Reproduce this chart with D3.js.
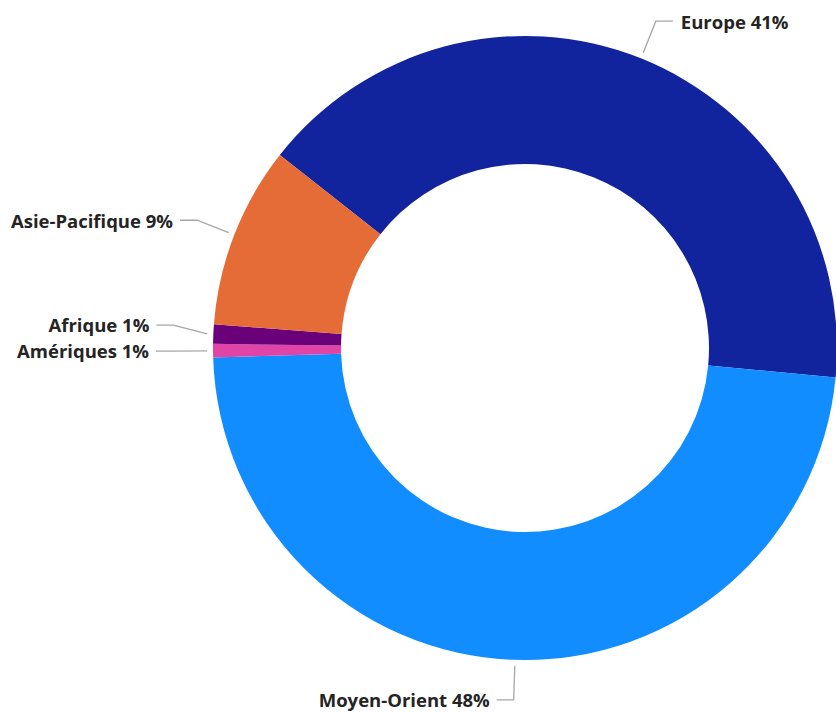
<!DOCTYPE html>
<html>
<head>
<meta charset="utf-8">
<script src="https://cdn.jsdelivr.net/npm/d3@7"></script>
<style>
  body { margin: 0; background: #fff; }
  svg { display: block; }
</style>
</head>
<body>
<div id="chart"></div>
<script>
// regions, clockwise order as drawn
var regions = ["Europe", "Moyen-Orient", "Amériques", "Afrique", "Asie-Pacifique"];
var shares = [40.9, 48.0, 0.7, 1.0, 9.4];
var colors = ["#12239E", "#118DFF", "#E044A7", "#6B007B", "#E66C37"];

var width = 836, height = 712;
var cx = 525, cy = 348;
var outerR = 312, innerR = 184;

var svg = d3.select("#chart").append("svg")
    .attr("width", width)
    .attr("height", height);

var data = regions.map(function (r, i) {
    return { region: r, value: shares[i], color: colors[i] };
});

var pie = d3.pie()
    .sort(null)
    .value(function (d) { return d.value; })
    .startAngle(-51.8 * Math.PI / 180)
    .endAngle((360 - 51.8) * Math.PI / 180);

var arc = d3.arc().innerRadius(innerR).outerRadius(outerR);

var g = svg.append("g").attr("transform", "translate(" + cx + "," + cy + ")");

var arcs = pie(data);

g.selectAll("path.slice")
    .data(arcs)
    .enter()
    .append("path")
    .attr("class", "slice")
    .attr("d", arc)
    .attr("fill", function (d) { return d.data.color; });

// label layout: radial segment then horizontal tail
function pt(angle, r) {
    return [Math.sin(angle) * r, -Math.cos(angle) * r];
}

var labels = arcs.map(function (d) {
    var mid = (d.startAngle + d.endAngle) / 2;
    var p1 = pt(mid, outerR + 6);
    var p2 = pt(mid, outerR + 40);
    var s = Math.sin(mid);
    var right = Math.abs(s) > 0.02 ? s > 0 : Math.cos(mid) > 0;
    return { d: d, mid: mid, p1: p1, p2: p2, right: right };
});

// push overlapping labels on the left side upward
var left = labels.filter(function (l) { return !l.right && Math.abs(l.p2[1]) < outerR; })
    .sort(function (a, b) { return b.p2[1] - a.p2[1]; });
for (var i = 1; i < left.length; i++) {
    if (left[i - 1].p2[1] - left[i].p2[1] < 26) {
        left[i].p2[1] = left[i - 1].p2[1] - 26;
    }
}

var lab = g.selectAll("g.label")
    .data(labels)
    .enter()
    .append("g")
    .attr("class", "label");

lab.append("polyline")
    .attr("points", function (l) {
        var x3 = l.p2[0] + (l.right ? 17 : -17);
        return [l.p1, l.p2, [x3, l.p2[1]]].map(function (p) { return p.join(","); }).join(" ");
    })
    .attr("fill", "none")
    .attr("stroke", "#a6a6a6")
    .attr("stroke-width", 1.3);

lab.append("text")
    .attr("x", function (l) { return l.p2[0] + (l.right ? 25 : -24); })
    .attr("y", function (l) { return l.p2[1]; })
    .attr("dy", "0.4em")
    .attr("text-anchor", function (l) { return l.right ? "start" : "end"; })
    .style("font-family", "'Open Sans', sans-serif")
    .style("font-weight", "bold")
    .style("font-size", "18.5px")
    .style("fill", "#252423")
    .text(function (l) { return l.d.data.region + " " + Math.round(l.d.data.value) + "%"; });
</script>
</body>
</html>
